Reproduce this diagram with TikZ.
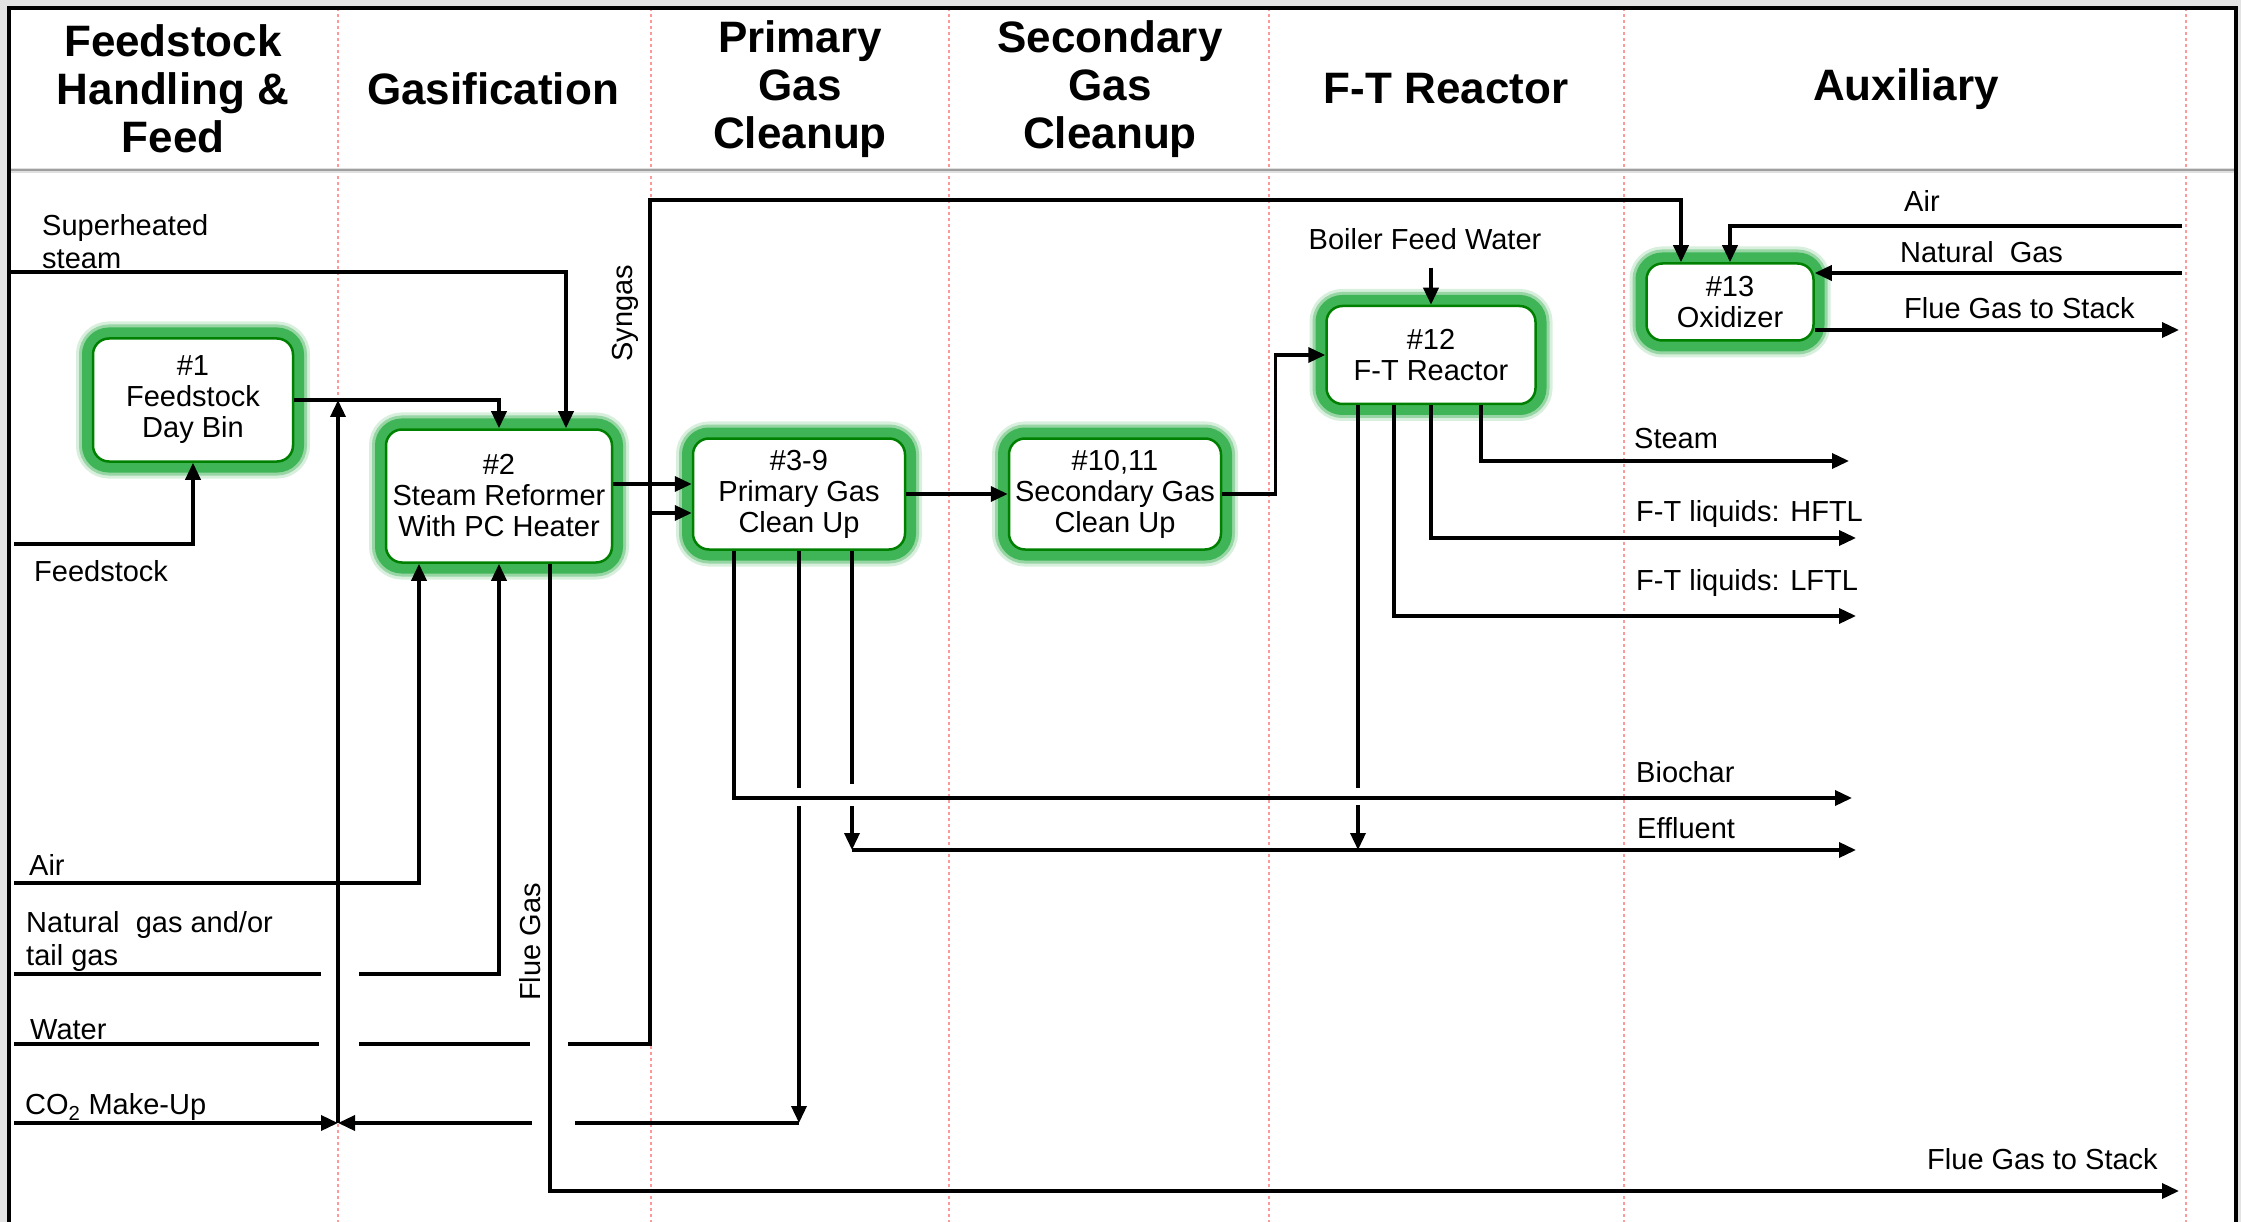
\documentclass[tikz,border=0pt]{standalone}
\usepackage{fontspec}
\setmainfont{Liberation Sans}
\usepackage{tikz}
\usetikzlibrary{arrows.meta,calc}

\definecolor{unitgreen}{RGB}{0,128,0}
\definecolor{glowgreen}{RGB}{55,178,80}
\newcommand{\lblfont}{\fontsize{29}{33}\selectfont}
\newcommand{\unitfont}{\fontsize{29}{31}\selectfont}
\newcommand{\headfont}{\fontsize{44}{48}\selectfont\bfseries}

\begin{document}
\begin{tikzpicture}[
  x=1pt,
  y=-1pt,
  ln/.style={line width=3.5pt},
  arr/.style={ln,-{Triangle[length=17pt,width=15pt]}},
  unit/.style={draw=unitgreen,line width=2.5pt,fill=white,rounded corners=16pt,
    font=\unitfont,align=center,inner sep=0pt,
    preaction={draw=glowgreen,line width=34pt,opacity=0.2},
    preaction={draw=glowgreen,line width=28pt,opacity=0.4},
    preaction={draw=glowgreen,line width=22pt,opacity=0.9}},
  lbl/.style={font=\lblfont,inner sep=0pt,anchor=west,align=left},
  head/.style={font=\headfont,align=center},
  lane/.style={draw=red!40,dash pattern=on 3pt off 3pt,line width=1.3pt}
]
  \useasboundingbox (0,0) rectangle (2241,1222);
  \fill[gray!22] (0,0) rectangle (2241,1222);
  \fill[white] (9,8) rectangle (2236,1222);
  \foreach \x in {338,651,949,1269,1624,2186}
    \draw[lane] (\x,8) -- (\x,1222);
  \draw[gray!25,line width=5pt] (9,171) -- (2236,171);
  \draw[gray!75,line width=2.5pt] (9,170) -- (2236,170);
  \draw[line width=4pt] (9,1222) -- (9,8) -- (2236,8) -- (2236,1222);

  \node[head] (hfeed) at (173,89) {Feedstock\\Handling \&\\Feed};
  \node[head] (hgas) at (493,89) {Gasification};
  \node[head] (hprim) at (800,89) {Primary\\Gas\\Cleanup};
  \node[head] (hsec) at (1110,89) {Secondary\\Gas\\Cleanup};
  \node[head] (hft) at (1446,89) {F-T Reactor};
  \node[head] (haux) at (1906,89) {Auxiliary};

  \node[unit,minimum width=200pt,minimum height=123pt] (bin) at (193,400) {\#1\\Feedstock\\Day Bin};
  \node[unit,minimum width=226pt,minimum height=133pt] (reformer) at (499,496) {\#2\\Steam Reformer\\With PC Heater};
  \node[unit,minimum width=212pt,minimum height=111pt] (pgc) at (799,494) {\#3-9\\Primary Gas\\Clean Up};
  \node[unit,minimum width=212pt,minimum height=111pt] (sgc) at (1115,494) {\#10,11\\Secondary Gas\\Clean Up};
  \node[unit,minimum width=209pt,minimum height=98pt] (ftr) at (1431,355) {\#12\\F-T Reactor};
  \node[unit,minimum width=167pt,minimum height=77pt] (oxid) at (1730,302) {\#13\\Oxidizer};

  \coordinate (steamin) at (10,272);
  \coordinate (feedin) at (14,544);
  \coordinate (airin) at (14,883);
  \coordinate (ngin) at (14,974);
  \coordinate (waterin) at (14,1044);
  \coordinate (co2in) at (14,1123);
  \coordinate (co2mix) at (338,1123);
  \coordinate (co2ret) at (799,1123);
  \coordinate (synup) at (650,1044);
  \coordinate (syntop) at (650,200);
  \coordinate (synbr) at (650,513);
  \coordinate (effin) at (852,850);
  \coordinate (stackout) at (2179,1191);
  \coordinate (charout) at (1852,798);
  \coordinate (effout) at (1856,850);
  \coordinate (steamout) at (1849,461);
  \coordinate (hftlout) at (1856,538);
  \coordinate (lftlout) at (1856,616);
  \coordinate (oxair) at (2182,226);
  \coordinate (oxng) at (2182,273);
  \coordinate (oxstack) at (2179,330);

  \draw[arr] (steamin) -| ($(reformer.north)+(67,0)$);
  \draw[arr] (feedin) -| (bin.south);
  \draw[arr] (bin.east) -| (reformer.north);
  \draw[arr] (co2mix) -- (co2mix |- bin.east);
  \draw[arr] (co2in) -- (co2mix);
  \draw[arr] (airin) -| ($(reformer.south)+(-80,0)$);
  \draw[ln] (ngin) -- (321,974);
  \draw[arr] (359,974) -| (reformer.south);
  \draw[ln] (waterin) -- (319,1044);
  \draw[ln] (359,1044) -- (530,1044);
  \draw[arr] (568,1044) -- (synup) -- (syntop) -| ($(oxid.north)+(-49,0)$);
  \draw[arr] (synbr) -- (synbr -| pgc.west);
  \draw[arr] ($(reformer.east)+(0,-12)$) -- ($(pgc.west)+(0,-10)$);
  \draw[arr] ($(reformer.south)+(51,0)$) |- (stackout);
  \draw[arr] (pgc.east) -- (sgc.west);
  \draw[arr] (sgc.east) -- ++(53,0) |- (ftr.west);

  \draw[ln] (pgc.south) -- (799,788);
  \draw[arr] (799,806) -- (co2ret);
  \draw[ln] (co2ret) -- (575,1123);
  \draw[arr] (532,1123) -- (co2mix);
  \draw[arr] ($(pgc.south)+(-65,0)$) |- (charout);
  \draw[ln] ($(pgc.south)+(53,0)$) -- (852,784);
  \draw[arr] (852,806) -- (effin);
  \draw[arr] (effin) -- (effout);

  \draw[arr] ($(ftr.north)+(0,-37)$) -- (ftr.north);
  \draw[arr] ($(ftr.south)+(50,0)$) |- (steamout);
  \draw[arr] (ftr.south) |- (hftlout);
  \draw[arr] ($(ftr.south)+(-37,0)$) |- (lftlout);
  \draw[ln] ($(ftr.south)+(-73,0)$) -- (1358,788);
  \draw[arr] (1358,805) -- (1358,850);

  \draw[arr] (oxair) -| (oxid.north);
  \draw[arr] (oxng) -- (oxng -| oxid.east);
  \draw[arr] (oxstack -| oxid.east) -- (oxstack);

  \node[lbl] (steamlbl) at (42,242) {Superheated\\steam};
  \node[lbl] (feedlbl) at (34,571) {Feedstock};
  \node[lbl] (airlbl) at (29,865) {Air};
  \node[lbl] (nglbl) at (26,941) {Natural\ \ gas and/or\\tail gas};
  \node[lbl] (waterlbl) at (30,1030) {Water};
  \node[lbl] (co2lbl) at (25,1107) {CO\textsubscript{2} Make-Up};
  \node[lbl,anchor=center,rotate=90] (fluelbl) at (530,942) {Flue Gas};
  \node[lbl,anchor=center,rotate=90] (synlbl) at (625,313) {Syngas};
  \node[lbl,anchor=center] (bfw) at (1425,239) {Boiler Feed Water};
  \node[lbl] (stmlbl) at (1634,439) {Steam};
  \node[lbl] (hftllbl) at (1636,514) {F-T liquids: HFTL};
  \node[lbl] (lftllbl) at (1636,583) {F-T liquids: LFTL};
  \node[lbl] (charlbl) at (1636,772) {Biochar};
  \node[lbl] (efflbl) at (1637,828) {Effluent};
  \node[lbl] (oxairlbl) at (1904,201) {Air};
  \node[lbl] (oxnglbl) at (1900,252) {Natural\ \ Gas};
  \node[lbl] (oxstacklbl) at (1904,308) {Flue Gas to Stack};
  \node[lbl] (stacklbl) at (1927,1159) {Flue Gas to Stack};
\end{tikzpicture}
\end{document}
